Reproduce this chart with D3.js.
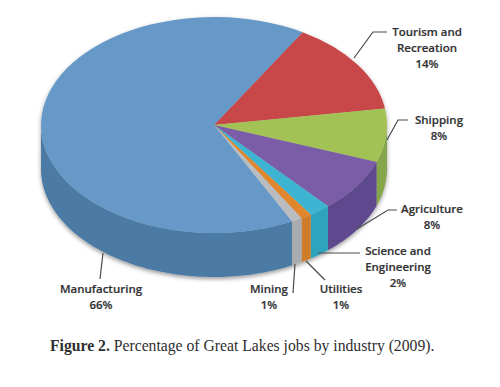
<!DOCTYPE html>
<html>
<head>
<meta charset="utf-8">
<script src="https://cdn.jsdelivr.net/npm/d3@7"></script>
<style>
  html, body { margin: 0; padding: 0; background: #fff; }
  svg { display: block; }
  .label { font-family: "Open Sans", sans-serif; font-weight: 600; font-size: 11.5px; fill: #333335; stroke: #333335; stroke-width: 0.2; text-anchor: middle; }
  .caption { font-family: "Liberation Serif", serif; font-size: 15.7px; fill: #2e2e30; }
  .leader { fill: none; stroke: #4a4a4c; stroke-width: 1.2; }
</style>
</head>
<body>
<div id="chart"></div>
<script>
// values as labelled on the chart, clockwise from the red slice
const categories = ["Tourism and Recreation", "Shipping", "Agriculture", "Science and Engineering", "Utilities", "Mining", "Manufacturing"];
const shares = [14, 8, 8, 2, 1, 1, 66];
const topColors = ["#c8464a", "#a3c255", "#7a5da6", "#3eb5d2", "#e0872e", "#b9bdbf", "#6699c7"];
const sideColors = ["#a33a3c", "#86a64c", "#5f4a8e", "#2fa3bd", "#cf7c2a", "#a8acae", "#4b7aa4"];

// label wrapping and placement, same order as categories
const labelLines = [["Tourism and", "Recreation"], ["Shipping"], ["Agriculture"], ["Science and", "Engineering"], ["Utilities"], ["Mining"], ["Manufacturing"]];
const labelPos = [[427, 36], [439, 124], [432, 213], [398, 255], [341, 293], [269, 293], [101, 293]];
const leaders = [
  [[354, 58], [373, 32], [387, 32]],
  [[387, 140], [398, 120], [408, 120]],
  [[357, 229], [388, 210], [397, 210]],
  [[318, 253], [360, 253]],
  [[306, 261], [325, 280]],
  [[295, 264], [293, 293]],
  [[103, 253], [100, 279]]
];

const width = 500, height = 387;
const cx = 214, cy = 125, rx = 173, ry = 108, depth = 44;
const startDeg = 30.8;
const lineHeight = 16;

const svg = d3.select("#chart").append("svg")
  .attr("width", width)
  .attr("height", height);

// soft shadow round the pie
const filter = svg.append("defs").append("filter")
  .attr("id", "soft")
  .attr("x", "-10%").attr("y", "-10%")
  .attr("width", "120%").attr("height", "125%");
filter.append("feDropShadow")
  .attr("dx", 0).attr("dy", 2)
  .attr("stdDeviation", 2.2)
  .attr("flood-color", "#000")
  .attr("flood-opacity", 0.4);

// unit circle -> tilted ellipse
const xScale = d3.scaleLinear().domain([-1, 1]).range([cx - rx, cx + rx]);
const yScale = d3.scaleLinear().domain([-1, 1]).range([cy - ry, cy + ry]);

const start = startDeg * Math.PI / 180;
const pie = d3.pie().sort(null).startAngle(start).endAngle(start + 2 * Math.PI);
const slices = pie(shares);

const arc = d3.arc().innerRadius(0).outerRadius(1);
const pieGroup = svg.append("g").attr("filter", "url(#soft)");

// side wall, only the part of each slice facing the viewer (90deg to 270deg)
function sidePath(d) {
  const pieces = [];
  [0, 2 * Math.PI].forEach(turn => {
    const a0 = Math.max(d.startAngle, Math.PI / 2 + turn);
    const a1 = Math.min(d.endAngle, 3 * Math.PI / 2 + turn);
    if (a1 <= a0) return;
    const n = Math.ceil((a1 - a0) * 40);
    const angles = d3.range(n + 1).map(i => a0 + (a1 - a0) * i / n);
    const upper = angles.map(a => [xScale(Math.sin(a)), yScale(-Math.cos(a))]);
    const lower = upper.slice().reverse().map(p => [p[0], p[1] + depth]);
    pieces.push(d3.line()(upper.concat(lower)) + "Z");
  });
  return pieces.join("");
}

pieGroup.selectAll(".side")
  .data(slices)
  .join("path")
  .attr("class", "side")
  .attr("d", sidePath)
  .attr("fill", (d, i) => sideColors[i]);

pieGroup.append("g")
  .attr("transform", `translate(${cx},${cy}) scale(${rx},${ry})`)
  .selectAll(".top")
  .data(slices)
  .join("path")
  .attr("class", "top")
  .attr("d", arc)
  .attr("fill", (d, i) => topColors[i]);

// leader lines
svg.selectAll(".leader")
  .data(leaders)
  .join("path")
  .attr("class", "leader")
  .attr("d", d3.line());

// labels
categories.forEach((name, i) => {
  const lines = labelLines[i].concat(shares[i] + "%");
  svg.append("text")
    .attr("class", "label")
    .selectAll("tspan")
    .data(lines)
    .join("tspan")
    .attr("x", labelPos[i][0])
    .attr("y", (d, j) => labelPos[i][1] + j * lineHeight)
    .text(d => d);
});

// caption
const caption = svg.append("text")
  .attr("class", "caption")
  .attr("x", 50)
  .attr("y", 351);
caption.append("tspan").attr("font-weight", "bold").text("Figure 2.");
caption.append("tspan").text(" Percentage of Great Lakes jobs by industry (2009).");
</script>
</body>
</html>
